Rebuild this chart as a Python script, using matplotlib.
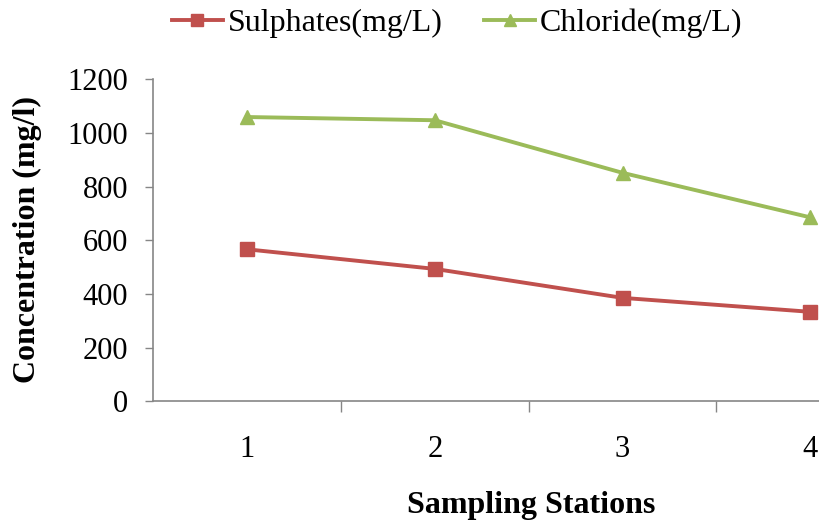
import matplotlib.pyplot as plt

stations = [1, 2, 3, 4]
station_labels = ["1", "2", "3", "4"]
sulphates = [566, 493, 385, 333]
chloride = [1059, 1047, 851, 685]
y_ticks = [0, 200, 400, 600, 800, 1000, 1200]

plt.rcParams['font.family'] = ['Liberation Serif', 'DejaVu Serif']

fig = plt.figure(figsize=(8.19, 5.21), dpi=100)
# plot area runs past the right edge of the picture, as in the original
ax = fig.add_axes([0.187, 0.230, 0.917, 0.618])

ax.plot(stations, sulphates, color='#C0504D', lw=2.8, marker='s', ms=10,
        label='Sulphates(mg/L)')
ax.plot(stations, chloride, color='#9BBB59', lw=2.8, marker='^', ms=10,
        label='Chloride(mg/L)')

ax.set_xlim(0.5, 4.5)
ax.set_ylim(0, 1200)
ax.set_yticks(y_ticks)
ax.set_yticklabels([str(v) for v in y_ticks], fontsize=22)

# category labels centred, ticks on the boundaries
ax.set_xticks([1.5, 2.5, 3.5, 4.5])
ax.set_xticklabels([])
ax.set_xticks(stations, minor=True)
ax.set_xticklabels(station_labels, minor=True, fontsize=22)
ax.tick_params(axis='x', which='minor', length=0, pad=24)
ax.tick_params(axis='x', which='major', length=8, color='#868686', width=1)
ax.tick_params(axis='y', length=6, color='#868686', width=1, pad=12)

for s in ['top', 'right']:
    ax.spines[s].set_visible(False)
for s in ['left', 'bottom']:
    ax.spines[s].set_color('#868686')
    ax.spines[s].set_linewidth(1.2)

fig.text(0.034, 0.54, 'Concentration (mg/l)', rotation=90, ha='center', va='center',
         fontsize=23, fontweight='bold')
fig.text(0.648, 0.030, 'Sampling Stations', ha='center', va='center',
         fontsize=23, fontweight='bold')

fig.legend(loc='center', bbox_to_anchor=(0.558, 0.955), ncol=2, frameon=False,
           fontsize=23, handlelength=1.6, handletextpad=0.15, columnspacing=1.3,
           markerscale=0.9)

fig.savefig('out.png', dpi=100)
